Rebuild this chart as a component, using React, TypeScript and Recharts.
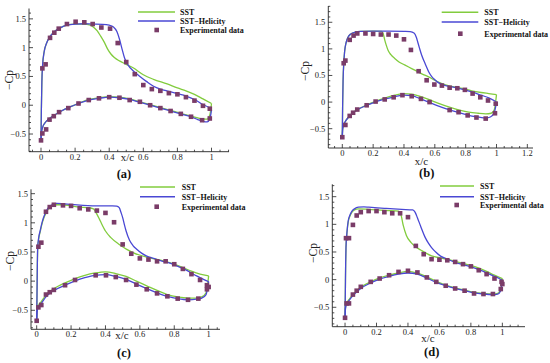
import { ComposedChart, Line, Scatter, XAxis, YAxis } from 'recharts';

type P = [number, number];

const SERIF = '"Liberation Serif", "Times New Roman", serif';
const GREEN = '#82cc3e';
const BLUE = '#4a48d4';
const MARK = '#7a3c68';
const INK = '#222';

// ---- (a) ----
const aSstUp: P[] = [[0, -0.62], [0.002, -0.1], [0.005, 0.4], [0.01, 0.72], [0.018, 0.92], [0.033, 1.08], [0.05, 1.18], [0.072, 1.26], [0.11, 1.34], [0.15, 1.39], [0.2, 1.41], [0.25, 1.41], [0.29, 1.39], [0.31, 1.35], [0.33, 1.29], [0.35, 1.2], [0.37, 1.1], [0.39, 0.98], [0.41, 0.89], [0.43, 0.83], [0.46, 0.77], [0.5, 0.71], [0.54, 0.65], [0.6, 0.53], [0.66, 0.45], [0.74, 0.37], [0.8, 0.3], [0.85, 0.25], [0.9, 0.19], [0.95, 0.11], [1.0, 0.03]];
const aSstLow: P[] = [[0, -0.62], [0.003, -0.47], [0.01, -0.38], [0.025, -0.3], [0.05, -0.23], [0.08, -0.17], [0.12, -0.1], [0.17, -0.03], [0.22, 0.03], [0.28, 0.1], [0.34, 0.13], [0.4, 0.15], [0.46, 0.14], [0.52, 0.11], [0.58, 0.06], [0.64, 0.01], [0.7, -0.04], [0.76, -0.09], [0.82, -0.14], [0.88, -0.19], [0.92, -0.22], [0.95, -0.24], [0.975, -0.24], [0.99, -0.17], [1.0, 0.03]];
const aHelUp: P[] = [[0, -0.62], [0.002, -0.1], [0.005, 0.4], [0.01, 0.72], [0.018, 0.92], [0.033, 1.08], [0.05, 1.18], [0.072, 1.26], [0.11, 1.34], [0.15, 1.39], [0.2, 1.41], [0.25, 1.415], [0.3, 1.41], [0.36, 1.405], [0.4, 1.39], [0.425, 1.36], [0.445, 1.28], [0.46, 1.15], [0.475, 0.98], [0.49, 0.82], [0.51, 0.7], [0.54, 0.6], [0.58, 0.5], [0.62, 0.41], [0.66, 0.33], [0.7, 0.28], [0.75, 0.24], [0.8, 0.2], [0.85, 0.16], [0.9, 0.1], [0.95, 0.01], [0.99, -0.05], [1.0, -0.08]];
const aHelLow: P[] = [[0, -0.62], [0.003, -0.47], [0.01, -0.38], [0.025, -0.3], [0.05, -0.23], [0.08, -0.17], [0.12, -0.1], [0.17, -0.03], [0.22, 0.03], [0.28, 0.09], [0.34, 0.12], [0.4, 0.14], [0.46, 0.13], [0.52, 0.1], [0.58, 0.05], [0.64, 0.0], [0.7, -0.05], [0.76, -0.1], [0.82, -0.15], [0.88, -0.2], [0.92, -0.25], [0.95, -0.28], [0.975, -0.29], [0.99, -0.24], [1.0, -0.08]];
const aExp: P[] = [[0, -0.61], [0.008, -0.49], [0.03, -0.42], [0.008, 0.64], [0.027, 0.71], [0.053, 1.17], [0.078, 1.26], [0.104, 1.33], [0.152, 1.41], [0.203, 1.45], [0.254, 1.44], [0.303, 1.41], [0.354, 1.35], [0.405, 1.33], [0.45, 1.08], [0.5, 0.75], [0.55, 0.54], [0.6, 0.35], [0.65, 0.28], [0.7, 0.25], [0.75, 0.21], [0.8, 0.19], [0.85, 0.14], [0.9, 0.08], [0.95, -0.01], [0.99, -0.06], [0.99, -0.23], [0.945, -0.26], [0.88, -0.2], [0.82, -0.15], [0.76, -0.1], [0.7, -0.05], [0.64, 0.0], [0.58, 0.06], [0.52, 0.09], [0.46, 0.13], [0.4, 0.14], [0.34, 0.12], [0.28, 0.09], [0.22, 0.03], [0.16, -0.05], [0.106, -0.12], [0.075, -0.19], [0.05, -0.25]];

// ---- (b) ----
const bSstUp: P[] = [[0, -0.66], [0.002, -0.1], [0.005, 0.4], [0.01, 0.75], [0.015, 0.95], [0.025, 1.12], [0.037, 1.22], [0.055, 1.28], [0.08, 1.31], [0.12, 1.33], [0.2, 1.335], [0.255, 1.33], [0.265, 1.29], [0.275, 1.17], [0.285, 1.07], [0.296, 0.98], [0.315, 0.89], [0.34, 0.82], [0.37, 0.75], [0.404, 0.7], [0.45, 0.63], [0.49, 0.57], [0.53, 0.51], [0.556, 0.48], [0.6, 0.41], [0.642, 0.35], [0.7, 0.3], [0.77, 0.26], [0.84, 0.21], [0.9, 0.18], [0.95, 0.16], [1.0, 0.14]];
const bSstLow: P[] = [[0, -0.66], [0.003, -0.5], [0.01, -0.42], [0.025, -0.34], [0.048, -0.26], [0.07, -0.2], [0.1, -0.14], [0.16, -0.05], [0.22, 0.02], [0.28, 0.08], [0.34, 0.13], [0.4, 0.16], [0.45, 0.15], [0.5, 0.11], [0.56, 0.05], [0.62, -0.02], [0.7, -0.1], [0.76, -0.15], [0.82, -0.19], [0.88, -0.21], [0.93, -0.22], [0.965, -0.21], [0.985, -0.15], [1.0, 0.14]];
const bHelUp: P[] = [[0, -0.66], [0.002, -0.1], [0.005, 0.4], [0.01, 0.75], [0.015, 0.95], [0.025, 1.12], [0.037, 1.22], [0.055, 1.28], [0.08, 1.31], [0.12, 1.33], [0.2, 1.335], [0.3, 1.335], [0.4, 1.33], [0.44, 1.325], [0.465, 1.3], [0.48, 1.22], [0.49, 1.12], [0.5, 1.02], [0.515, 0.88], [0.53, 0.77], [0.545, 0.67], [0.56, 0.57], [0.58, 0.48], [0.6, 0.42], [0.62, 0.37], [0.66, 0.32], [0.72, 0.28], [0.78, 0.24], [0.84, 0.19], [0.9, 0.13], [0.95, 0.08], [0.99, 0.02], [1.0, 0.0]];
const bHelLow: P[] = [[0, -0.66], [0.003, -0.5], [0.01, -0.42], [0.025, -0.34], [0.048, -0.26], [0.07, -0.2], [0.1, -0.14], [0.16, -0.06], [0.22, 0.01], [0.28, 0.06], [0.34, 0.1], [0.4, 0.13], [0.45, 0.12], [0.5, 0.07], [0.56, 0.0], [0.62, -0.07], [0.7, -0.15], [0.76, -0.2], [0.82, -0.25], [0.88, -0.28], [0.93, -0.3], [0.96, -0.28], [0.985, -0.2], [1.0, 0.0]];
const bExp: P[] = [[0, -0.66], [0.02, -0.43], [0.009, 0.73], [0.02, 0.78], [0.048, 1.17], [0.073, 1.25], [0.097, 1.29], [0.15, 1.29], [0.2, 1.28], [0.25, 1.27], [0.3, 1.27], [0.35, 1.25], [0.4, 1.18], [0.445, 0.98], [0.495, 0.58], [0.547, 0.41], [0.597, 0.33], [0.646, 0.31], [0.696, 0.27], [0.746, 0.26], [0.795, 0.23], [0.845, 0.16], [0.895, 0.09], [0.945, 0.03], [0.995, -0.03], [0.99, -0.21], [0.93, -0.31], [0.87, -0.29], [0.813, -0.25], [0.754, -0.19], [0.696, -0.15], [0.566, 0.0], [0.51, 0.06], [0.45, 0.11], [0.39, 0.13], [0.333, 0.09], [0.275, 0.05], [0.216, 0.01], [0.158, -0.06], [0.097, -0.14], [0.07, -0.2], [0.048, -0.26]];

// ---- (c) ----
const cSstUp: P[] = [[0, -0.68], [0.002, -0.2], [0.004, 0.3], [0.006, 0.56], [0.012, 0.73], [0.02, 0.84], [0.03, 0.97], [0.04, 1.07], [0.055, 1.17], [0.068, 1.24], [0.09, 1.29], [0.116, 1.31], [0.15, 1.31], [0.2, 1.29], [0.25, 1.27], [0.3, 1.26], [0.33, 1.24], [0.35, 1.15], [0.37, 1.03], [0.4, 0.86], [0.43, 0.75], [0.48, 0.63], [0.56, 0.49], [0.64, 0.41], [0.72, 0.36], [0.8, 0.29], [0.86, 0.22], [0.9, 0.17], [0.95, 0.12], [1.0, 0.09]];
const cSstLow: P[] = [[0, -0.68], [0.003, -0.5], [0.01, -0.42], [0.027, -0.35], [0.054, -0.24], [0.08, -0.17], [0.1, -0.13], [0.165, -0.03], [0.22, 0.04], [0.28, 0.1], [0.34, 0.14], [0.4, 0.16], [0.46, 0.13], [0.52, 0.08], [0.58, 0.0], [0.64, -0.08], [0.7, -0.16], [0.76, -0.23], [0.82, -0.27], [0.88, -0.29], [0.93, -0.29], [0.96, -0.27], [0.985, -0.2], [1.0, 0.09]];
const cHelUp: P[] = [[0, -0.68], [0.002, -0.2], [0.004, 0.3], [0.006, 0.58], [0.012, 0.75], [0.02, 0.86], [0.03, 0.99], [0.04, 1.09], [0.055, 1.19], [0.068, 1.26], [0.09, 1.31], [0.116, 1.335], [0.15, 1.33], [0.2, 1.315], [0.27, 1.3], [0.37, 1.29], [0.44, 1.29], [0.465, 1.285], [0.48, 1.26], [0.49, 1.18], [0.5, 1.09], [0.51, 0.97], [0.52, 0.86], [0.54, 0.7], [0.56, 0.61], [0.58, 0.55], [0.61, 0.48], [0.64, 0.43], [0.68, 0.39], [0.72, 0.35], [0.76, 0.32], [0.8, 0.28], [0.84, 0.23], [0.87, 0.19], [0.9, 0.14], [0.93, 0.09], [0.97, 0.03], [1.0, -0.01]];
const cHelLow: P[] = [[0, -0.68], [0.003, -0.52], [0.01, -0.44], [0.027, -0.38], [0.054, -0.27], [0.08, -0.2], [0.1, -0.16], [0.165, -0.07], [0.22, 0.0], [0.28, 0.06], [0.34, 0.1], [0.4, 0.11], [0.46, 0.08], [0.52, 0.03], [0.58, -0.05], [0.64, -0.13], [0.7, -0.2], [0.76, -0.26], [0.82, -0.3], [0.88, -0.32], [0.93, -0.31], [0.96, -0.29], [0.985, -0.23], [1.0, -0.01]];
const cExp: P[] = [[0, -0.68], [0.01, -0.45], [0.027, -0.41], [0.01, 0.59], [0.027, 0.66], [0.054, 1.19], [0.076, 1.27], [0.1, 1.31], [0.153, 1.3], [0.2, 1.29], [0.25, 1.25], [0.3, 1.23], [0.35, 1.21], [0.4, 1.17], [0.45, 1.01], [0.5, 0.63], [0.55, 0.47], [0.6, 0.39], [0.65, 0.37], [0.7, 0.34], [0.75, 0.34], [0.8, 0.29], [0.85, 0.21], [0.9, 0.12], [0.95, 0.02], [0.99, -0.07], [1.0, -0.1], [0.99, -0.14], [0.94, -0.3], [0.88, -0.32], [0.82, -0.3], [0.76, -0.26], [0.7, -0.21], [0.64, -0.14], [0.58, -0.06], [0.52, 0.02], [0.46, 0.07], [0.403, 0.1], [0.343, 0.1], [0.223, 0.02], [0.165, -0.07], [0.1, -0.15], [0.076, -0.19], [0.054, -0.23]];

// ---- (d) ----
const dSstUp: P[] = [[0, -0.69], [0.002, -0.2], [0.004, 0.3], [0.006, 0.58], [0.012, 0.84], [0.02, 1.04], [0.03, 1.14], [0.042, 1.21], [0.06, 1.26], [0.085, 1.28], [0.15, 1.27], [0.25, 1.25], [0.34, 1.24], [0.355, 1.18], [0.37, 0.98], [0.39, 0.8], [0.42, 0.67], [0.49, 0.52], [0.55, 0.43], [0.61, 0.39], [0.66, 0.36], [0.74, 0.3], [0.83, 0.23], [0.9, 0.15], [0.95, 0.08], [1.0, 0.02]];
const dSstLow: P[] = [[0, -0.69], [0.003, -0.5], [0.01, -0.43], [0.025, -0.36], [0.05, -0.27], [0.075, -0.2], [0.1, -0.14], [0.163, -0.04], [0.22, 0.03], [0.28, 0.08], [0.34, 0.12], [0.4, 0.15], [0.46, 0.12], [0.52, 0.05], [0.58, -0.03], [0.64, -0.1], [0.7, -0.15], [0.76, -0.19], [0.82, -0.23], [0.88, -0.25], [0.94, -0.26], [0.97, -0.25], [0.99, -0.18], [1.0, 0.02]];
const dHelUp: P[] = [[0, -0.69], [0.002, -0.2], [0.004, 0.3], [0.006, 0.58], [0.012, 0.85], [0.02, 1.06], [0.03, 1.16], [0.042, 1.23], [0.06, 1.28], [0.085, 1.31], [0.12, 1.315], [0.15, 1.31], [0.25, 1.29], [0.36, 1.27], [0.43, 1.26], [0.445, 1.22], [0.46, 1.12], [0.48, 0.97], [0.51, 0.76], [0.53, 0.66], [0.55, 0.58], [0.58, 0.49], [0.61, 0.42], [0.66, 0.36], [0.7, 0.31], [0.74, 0.28], [0.8, 0.23], [0.85, 0.18], [0.91, 0.11], [0.95, 0.06], [0.98, 0.02], [1.0, -0.01]];
const dHelLow: P[] = [[0, -0.69], [0.003, -0.52], [0.01, -0.44], [0.025, -0.38], [0.05, -0.29], [0.075, -0.22], [0.1, -0.16], [0.163, -0.06], [0.22, 0.01], [0.28, 0.06], [0.34, 0.1], [0.4, 0.12], [0.46, 0.1], [0.52, 0.03], [0.58, -0.05], [0.64, -0.11], [0.7, -0.16], [0.76, -0.2], [0.82, -0.24], [0.88, -0.26], [0.94, -0.27], [0.97, -0.26], [0.99, -0.2], [1.0, -0.01]];
const dExp: P[] = [[0, -0.69], [0.01, -0.43], [0.025, -0.43], [0.006, 0.75], [0.025, 0.75], [0.05, 0.99], [0.074, 1.16], [0.1, 1.22], [0.15, 1.24], [0.2, 1.24], [0.25, 1.22], [0.3, 1.2], [0.35, 1.2], [0.4, 1.13], [0.45, 0.61], [0.5, 0.46], [0.55, 0.37], [0.6, 0.36], [0.65, 0.35], [0.7, 0.32], [0.75, 0.28], [0.8, 0.24], [0.85, 0.17], [0.9, 0.1], [0.95, 0.02], [0.995, -0.04], [1.0, -0.08], [0.99, -0.17], [0.94, -0.26], [0.88, -0.26], [0.82, -0.25], [0.76, -0.2], [0.7, -0.16], [0.64, -0.11], [0.58, -0.04], [0.52, 0.04], [0.46, 0.13], [0.4, 0.16], [0.34, 0.14], [0.28, 0.08], [0.22, 0.02], [0.163, -0.04], [0.1, -0.13], [0.074, -0.2], [0.05, -0.27]];

const xMajors = [0, 0.2, 0.4, 0.6, 0.8, 1];
const xMajorsB = [0, 0.2, 0.4, 0.6, 0.8, 1, 1.2];
const yMajors = [-0.5, 0, 0.5, 1, 1.5];
const seriesNames = ['SST', 'SST\u2212Helicity', 'Experimental data'];

const pts = (a: P[]) => a.map(([x, y]) => ({ x, y }));
const fmt = (v: number) => (v < 0 ? '\u2212' + Math.abs(v) : String(v));
const isMajor = (v: number, majors: number[]) => majors.some((m) => Math.abs(m - v) < 1e-6);

function allTicks(dom: number[], step: number) {
  const out: number[] = [];
  for (let k = Math.ceil(dom[0] / step - 1e-9); k * step <= dom[1] + 1e-9; k++) {
    out.push(Math.round(k * step * 1000) / 1000);
  }
  return out;
}

const panels = [
  {
    tag: '(a)', ox: 0, oy: 0, plot: { l: 29, t: 8.5, r: 229, b: 151.7 },
    xDom: [-0.0704, 1.1026], yDom: [-0.807, 1.68], xMaj: xMajors,
    sst: [aSstUp, aSstLow], hel: [aHelUp, aHelLow], exp: aExp,
    key: { x1: 138, x2: 175, mx: 156.7, tx: 180, ys: [12, 21, 30] },
    xc: [127.5, 161], tagPos: [124, 178], cp: [8.5, 80],
  },
  {
    tag: '(b)', ox: 275, oy: 0, plot: { l: 53.3, t: 6, r: 258, b: 148 },
    xDom: [-0.0908, 1.2367], yDom: [-0.863, 1.806], xMaj: xMajorsB,
    sst: [bSstUp, bSstLow], hel: [bHelUp, bHelLow], exp: bExp,
    key: { x1: 166.7, x2: 203.3, mx: 185.3, tx: 209.3, ys: [12.3, 22, 33.7] },
    xc: [146.5, 164.5], tagPos: [151.7, 176.5], cp: [29.5, 71],
  },
  {
    tag: '(c)', ox: 0, oy: 181, plot: { l: 31, t: 8.3, r: 220, b: 148.3 },
    xDom: [-0.033, 1.066], yDom: [-0.826, 1.575], xMaj: xMajors,
    sst: [cSstUp, cSstLow], hel: [cHelUp, cHelLow], exp: cExp,
    key: { x1: 140, x2: 175, mx: 156.7, tx: 181.7, ys: [6, 15.7, 25.7] },
    xc: [122, 158], tagPos: [124, 175.5], cp: [9.5, 80],
  },
  {
    tag: '(d)', ox: 275, oy: 181, plot: { l: 57.3, t: 3.3, r: 250, b: 145.7 },
    xDom: [-0.081, 1.144], yDom: [-0.851, 1.724], xMaj: xMajors,
    sst: [dSstUp, dSstLow], hel: [dHelUp, dHelLow], exp: dExp,
    key: { x1: 165, x2: 199, mx: 181.7, tx: 205, ys: [5, 15.7, 24] },
    xc: [153, 161], tagPos: [156.7, 175], cp: [37.5, 72],
  },
];

const W = 275;
const H = 182;
const AX = 20; // room reserved by each axis

function Square(props: any) {
  const { cx, cy } = props;
  if (cx == null || cy == null) return null;
  return <rect x={cx - 2.3} y={cy - 2.3} width={4.6} height={4.6} fill={MARK} />;
}

function Panel({ p }: { p: (typeof panels)[number] }) {
  const { l, t, r, b } = p.plot;
  const xTick = (tp: any) => {
    const v = tp.payload.value;
    const major = isMajor(v, p.xMaj);
    return (
      <g>
        <line x1={tp.x} x2={tp.x} y1={b} y2={b - (major ? 4 : 2)} stroke={INK} strokeWidth={0.8} />
        {major && (
          <text x={tp.x} y={b + 8} textAnchor="middle" fontSize={8.5} fontFamily={SERIF} fill={INK}>
            {fmt(v)}
          </text>
        )}
      </g>
    );
  };
  const yTick = (tp: any) => {
    const v = tp.payload.value;
    const major = isMajor(v, yMajors);
    return (
      <g>
        <line x1={l} x2={l + (major ? 4 : 2)} y1={tp.y} y2={tp.y} stroke={INK} strokeWidth={0.8} />
        {major && (
          <text x={l - 3} y={tp.y + 3} textAnchor="end" fontSize={8.5} fontFamily={SERIF} fill={INK}>
            {fmt(v)}
          </text>
        )}
      </g>
    );
  };
  const k = p.key;
  return (
    <div style={{ position: 'absolute', left: p.ox, top: p.oy, width: W, height: H }}>
      <ComposedChart width={W} height={H} margin={{ top: t, left: l - AX, right: W - r, bottom: H - b - AX }}>
        <XAxis
          type="number" dataKey="x" domain={p.xDom} allowDataOverflow
          ticks={allTicks(p.xDom, 0.05)} interval={0} height={AX}
          tickSize={0} tickMargin={0} tickLine={false}
          axisLine={{ stroke: INK, strokeWidth: 0.9 }} tick={xTick}
        />
        <YAxis
          type="number" dataKey="y" domain={p.yDom} allowDataOverflow
          ticks={allTicks(p.yDom, 0.1)} interval={0} width={AX}
          tickSize={0} tickMargin={0} tickLine={false}
          axisLine={{ stroke: INK, strokeWidth: 0.9 }} tick={yTick}
        />
        {p.sst.map((s, i) => (
          <Line key={'s' + i} data={pts(s)} dataKey="y" type="monotone" stroke={GREEN} strokeWidth={1.3} dot={false} isAnimationActive={false} />
        ))}
        {p.hel.map((s, i) => (
          <Line key={'h' + i} data={pts(s)} dataKey="y" type="monotone" stroke={BLUE} strokeWidth={1.3} dot={false} isAnimationActive={false} />
        ))}
        <Scatter data={pts(p.exp)} dataKey="y" shape={Square} isAnimationActive={false} />
      </ComposedChart>
      <svg width={W} height={H} style={{ position: 'absolute', left: 0, top: 0, pointerEvents: 'none' }}>
        <line x1={k.x1} x2={k.x2} y1={k.ys[0]} y2={k.ys[0]} stroke={GREEN} strokeWidth={1.5} />
        <line x1={k.x1} x2={k.x2} y1={k.ys[1]} y2={k.ys[1]} stroke={BLUE} strokeWidth={1.5} />
        <rect x={k.mx - 2.3} y={k.ys[2] - 2.3} width={4.6} height={4.6} fill={MARK} />
        {seriesNames.map((n, i) => (
          <text key={n} x={k.tx} y={k.ys[i] + 2.8} fontSize={8} fontWeight="bold" fontFamily={SERIF} fill="#111">
            {n}
          </text>
        ))}
        <text x={p.xc[0]} y={p.xc[1]} textAnchor="middle" fontSize={11} fontFamily={SERIF} fill={INK}>x/c</text>
        <text x={p.tagPos[0]} y={p.tagPos[1]} textAnchor="middle" fontSize={12.5} fontWeight="bold" fontFamily={SERIF} fill="#111">{p.tag}</text>
        <text
          x={p.cp[0]} y={p.cp[1]} textAnchor="middle" fontSize={11.5} fontFamily={SERIF} fill={INK}
          transform={`rotate(-90 ${p.cp[0]} ${p.cp[1]})`} dominantBaseline="central"
        >
          {'\u2212Cp'}
        </text>
      </svg>
    </div>
  );
}

export default function App() {
  return (
    <div style={{ position: 'absolute', left: 0, top: 0, width: 550, height: 363, background: '#fff', overflow: 'hidden' }}>
      {panels.map((p) => (
        <Panel key={p.tag} p={p} />
      ))}
    </div>
  );
}
